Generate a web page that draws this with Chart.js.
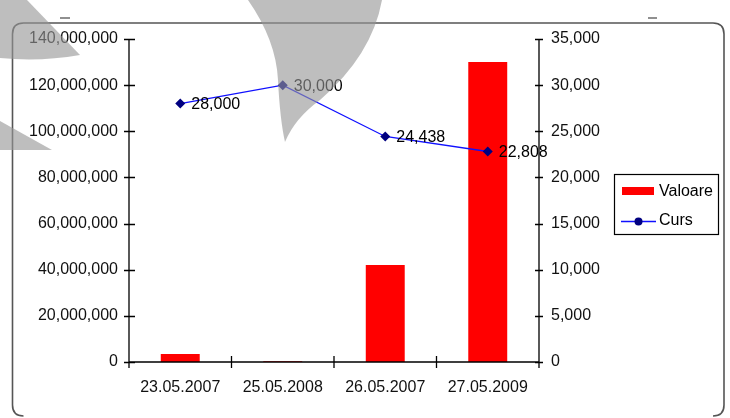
<!DOCTYPE html>
<html>
<head>
<meta charset="utf-8">
<script src="https://cdn.jsdelivr.net/npm/chart.js@4.4.1/dist/chart.umd.min.js"></script>
<style>
  html, body { margin: 0; padding: 0; background: #fff; }
  #wrap { width: 730px; height: 418px; position: relative; }
</style>
</head>
<body>
<div id="wrap"><canvas id="c" width="730" height="418"></canvas></div>
<script>
// ---- data ----
const categories = ['23.05.2007', '25.05.2008', '26.05.2007', '27.05.2009'];
const valoare = [3500000, 300000, 42000000, 130000000];
const curs = [28000, 30000, 24438, 22808];
const leftTicksMax = 140000000, leftStep = 20000000;
const rightTicksMax = 35000, rightStep = 5000;
const seriesNames = ['Valoare', 'Curs'];

const FONT = "'Liberation Sans', Arial, sans-serif";
Chart.defaults.font.family = FONT;
Chart.defaults.font.size = 16;
Chart.defaults.color = '#000';

const fmt = v => Number(v).toLocaleString('en-US');

// background decorations: rounded frame and small marks
const framePlugin = {
  id: 'frame',
  beforeDraw(chart) {
    const ctx = chart.ctx;
    ctx.save();
    ctx.fillStyle = '#fff';
    ctx.fillRect(0, 0, chart.width, chart.height);
    ctx.strokeStyle = '#555';
    ctx.lineWidth = 1.6;
    const x = 12.5, y = 23, w = 711.5, h = 393, r = 11;
    ctx.beginPath();
    ctx.moveTo(x + r, y);
    ctx.lineTo(x + w - r, y);
    ctx.quadraticCurveTo(x + w, y, x + w, y + r);
    ctx.lineTo(x + w, y + h - r);
    ctx.quadraticCurveTo(x + w, y + h, x + w - r, y + h);
    ctx.moveTo(x + r, y + h);
    ctx.quadraticCurveTo(x, y + h, x, y + h - r);
    ctx.lineTo(x, y + r);
    ctx.quadraticCurveTo(x, y, x + r, y);
    ctx.stroke();
    ctx.strokeStyle = '#222';
    ctx.lineWidth = 1.2;
    ctx.beginPath();
    ctx.moveTo(60, 18); ctx.lineTo(70, 18);
    ctx.moveTo(648, 18); ctx.lineTo(657, 18);
    ctx.stroke();
    ctx.restore();
  }
};

// axis lines and crossing tick marks
const axesPlugin = {
  id: 'axesLines',
  afterDatasetsDraw(chart) {
    const ctx = chart.ctx, a = chart.chartArea;
    const y = chart.scales.y, y1 = chart.scales.y1, x = chart.scales.x;
    ctx.save();
    ctx.strokeStyle = '#000';
    ctx.lineWidth = 1.3;
    ctx.beginPath();
    // left axis
    ctx.moveTo(a.left, a.top); ctx.lineTo(a.left, a.bottom);
    y.ticks.forEach(t => { const p = Math.round(y.getPixelForValue(t.value)) + 0.5; ctx.moveTo(a.left - 5, p); ctx.lineTo(a.left + 6, p); });
    // right axis
    ctx.moveTo(a.right, a.top); ctx.lineTo(a.right, a.bottom);
    y1.ticks.forEach(t => { const p = Math.round(y1.getPixelForValue(t.value)) + 0.5; ctx.moveTo(a.right - 4, p); ctx.lineTo(a.right + 4, p); });
    // bottom axis
    ctx.moveTo(a.left, a.bottom); ctx.lineTo(a.right, a.bottom);
    const n = categories.length;
    for (let i = 0; i <= n; i++) {
      const px = a.left + i * (a.right - a.left) / n;
      ctx.moveTo(px, a.bottom - 6); ctx.lineTo(px, a.bottom + 6);
    }
    ctx.stroke();
    ctx.restore();
  }
};

// value labels next to line points
const labelPlugin = {
  id: 'pointLabels',
  afterDatasetsDraw(chart) {
    const ctx = chart.ctx;
    const meta = chart.getDatasetMeta(1);
    ctx.save();
    ctx.font = '16px ' + FONT;
    ctx.fillStyle = '#000';
    ctx.textBaseline = 'middle';
    ctx.textAlign = 'left';
    meta.data.forEach((pt, i) => {
      ctx.fillText(fmt(chart.data.datasets[1].data[i]), pt.x + 11, pt.y + 1);
    });
    ctx.restore();
  }
};

// custom legend box
const legendPlugin = {
  id: 'boxLegend',
  afterDraw(chart) {
    const ctx = chart.ctx;
    const ds = chart.data.datasets;
    ctx.save();
    ctx.strokeStyle = '#000';
    ctx.lineWidth = 1.2;
    ctx.strokeRect(614.5, 174.5, 104, 60);
    ctx.font = '16px ' + FONT;
    ctx.fillStyle = '#000';
    ctx.textBaseline = 'middle';
    // bar entry
    ctx.fillStyle = ds[0].backgroundColor;
    ctx.fillRect(622, 187, 32, 8);
    ctx.fillStyle = '#000';
    ctx.fillText(ds[0].label, 659, 192);
    // line entry
    ctx.strokeStyle = ds[1].borderColor;
    ctx.lineWidth = 1.3;
    ctx.beginPath(); ctx.moveTo(621, 221.5); ctx.lineTo(656, 221.5); ctx.stroke();
    ctx.fillStyle = ds[1].pointBackgroundColor;
    ctx.beginPath(); ctx.arc(638.5, 221.5, 4, 0, Math.PI * 2); ctx.fill();
    ctx.fillStyle = '#000';
    ctx.fillText(ds[1].label, 659, 221);
    ctx.restore();
  }
};

// grey overlay shapes present in the picture
const overlayPlugin = {
  id: 'overlay',
  afterDraw(chart) {
    const ctx = chart.ctx;
    ctx.save();
    ctx.fillStyle = 'rgba(150,150,150,0.62)';
    // top-left
    ctx.beginPath();
    ctx.moveTo(0, 0); ctx.lineTo(27, 0); ctx.lineTo(80, 55);
    ctx.quadraticCurveTo(40, 62, 0, 58);
    ctx.closePath(); ctx.fill();
    // left middle
    ctx.beginPath();
    ctx.moveTo(0, 121); ctx.lineTo(52, 150); ctx.lineTo(0, 150);
    ctx.closePath(); ctx.fill();
    // top centre wedge
    ctx.beginPath();
    ctx.moveTo(248, 0);
    ctx.quadraticCurveTo(276, 40, 278, 80);
    ctx.quadraticCurveTo(280, 120, 285, 142);
    ctx.quadraticCurveTo(295, 118, 320, 100);
    ctx.quadraticCurveTo(372, 55, 382, 0);
    ctx.closePath(); ctx.fill();
    ctx.restore();
  }
};

new Chart(document.getElementById('c'), {
  type: 'bar',
  data: {
    labels: categories,
    datasets: [
      {
        type: 'bar', label: seriesNames[0], data: valoare, yAxisID: 'y',
        backgroundColor: '#FF0000', borderWidth: 0,
        barPercentage: 0.38, categoryPercentage: 1, order: 2
      },
      {
        type: 'line', label: seriesNames[1], data: curs, yAxisID: 'y1',
        borderColor: '#1010FF', borderWidth: 1.3, tension: 0,
        pointStyle: 'rectRot', pointRadius: 5, pointHoverRadius: 5,
        pointBackgroundColor: '#000080', pointBorderColor: '#000080', pointBorderWidth: 0,
        order: 1
      }
    ]
  },
  options: {
    responsive: false,
    animation: false,
    devicePixelRatio: 1,
    layout: { padding: { top: 39, left: 0, right: 0, bottom: 0 } },
    plugins: { legend: { display: false }, tooltip: { enabled: false } },
    scales: {
      x: {
        offset: true,
        grid: { display: false, drawTicks: false },
        border: { display: false },
        ticks: { padding: 16, color: '#111', maxRotation: 0, autoSkip: false },
        afterFit: s => { s.height = 56; }
      },
      y: {
        position: 'left', min: 0, max: leftTicksMax,
        grid: { display: false, drawTicks: false },
        border: { display: false },
        ticks: { stepSize: leftStep, padding: 11, color: '#111', callback: fmt },
        afterFit: s => { s.width = 129; }
      },
      y1: {
        position: 'right', min: 0, max: rightTicksMax,
        grid: { display: false, drawTicks: false },
        border: { display: false },
        ticks: { stepSize: rightStep, padding: 12, color: '#111', callback: fmt },
        afterFit: s => { s.width = 191; }
      }
    }
  },
  plugins: [framePlugin, axesPlugin, labelPlugin, legendPlugin, overlayPlugin]
});
</script>
</body>
</html>
